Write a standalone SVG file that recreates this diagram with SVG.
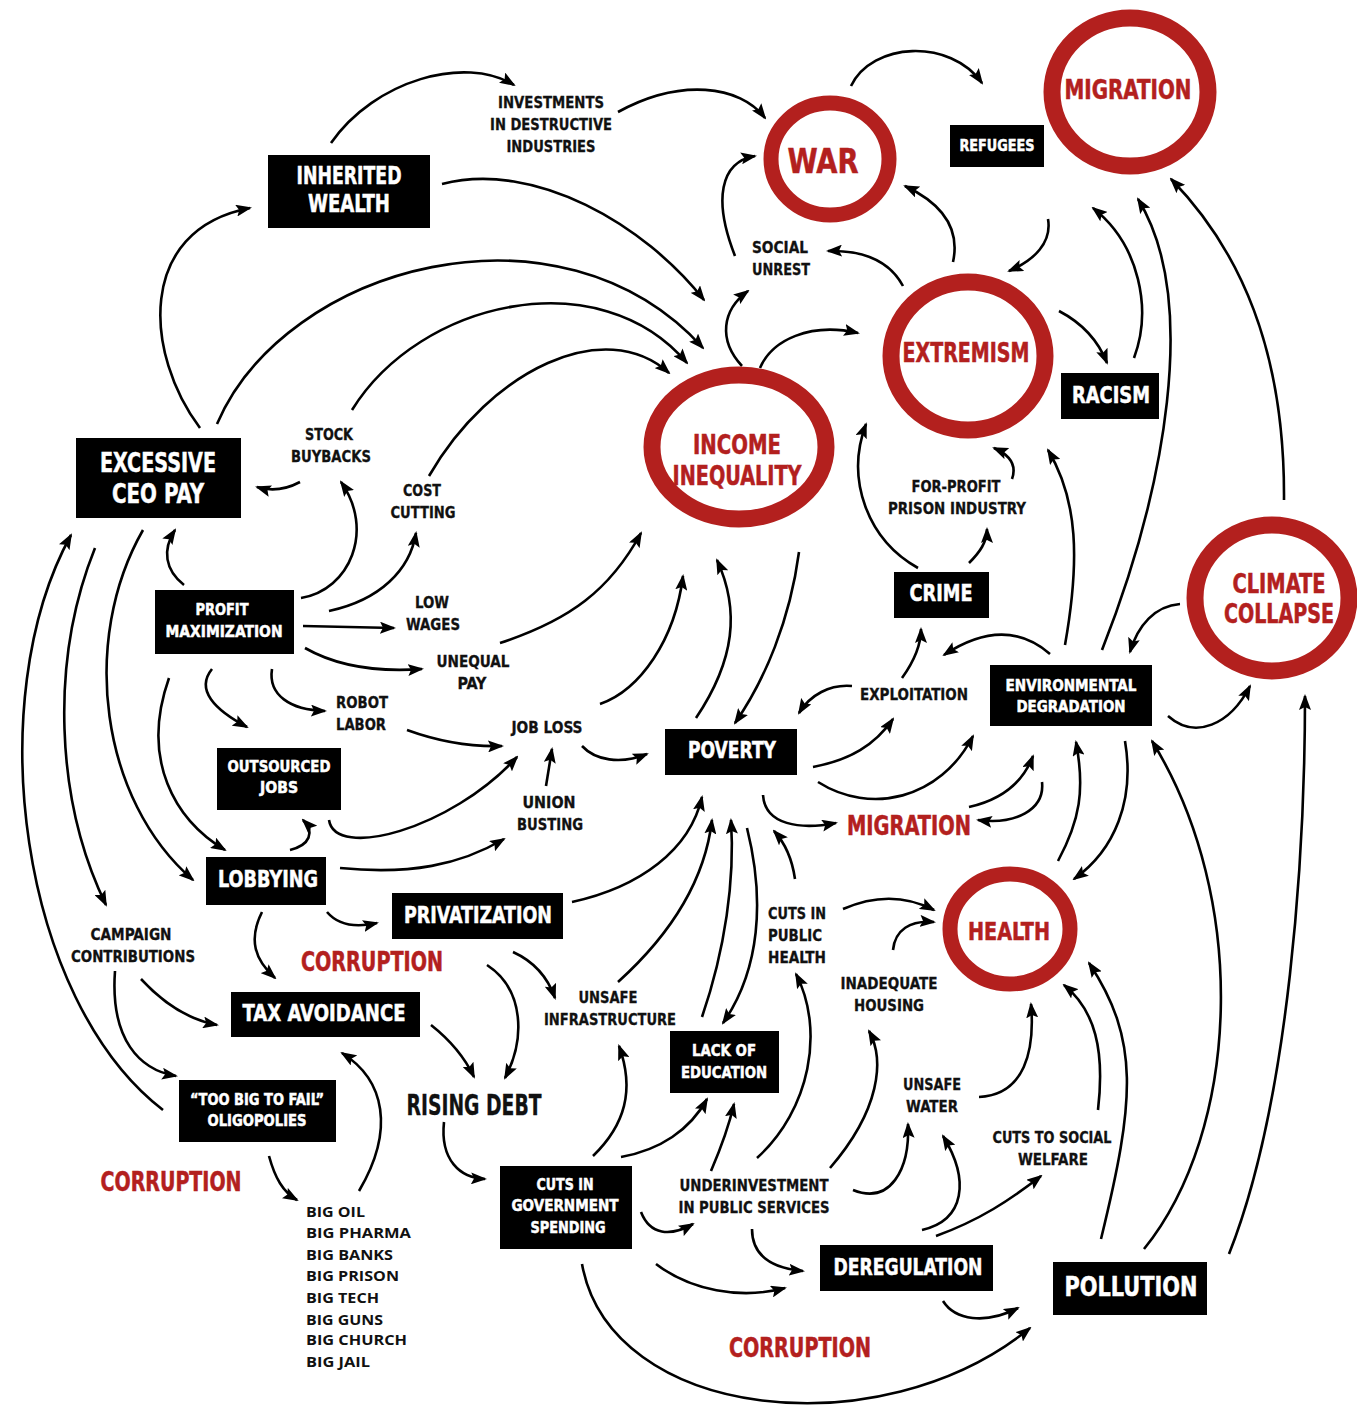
<svg xmlns="http://www.w3.org/2000/svg" width="1357" height="1407" viewBox="0 0 1357 1407">
<defs>
<style>
.bg{fill:#fff}
.box{fill:#000}
.t{font-family:"Liberation Sans Narrow","DejaVu Sans Condensed","Liberation Sans",sans-serif;font-weight:bold;text-anchor:middle;dominant-baseline:central}
.l{text-anchor:start}
.w{fill:#fff;stroke:#fff;stroke-width:0.5}
.k{fill:#111;stroke:#111;stroke-width:0.3}
.r{fill:#b3201e;stroke:#b3201e;stroke-width:0.5}
.s16{font-size:16px}
.s23{font-size:23px}
.s26{font-size:26px}
.ring{fill:none;stroke:#b3201e}
.c{fill:none;stroke:#000;stroke-width:2.6;marker-end:url(#ah)}
.big{font-family:"Open Sans","DejaVu Sans","Liberation Sans",sans-serif;font-weight:bold;font-size:15px;fill:#111;dominant-baseline:central}
</style>
<marker id="ah" viewBox="0 0 16 12" refX="14" refY="6" markerWidth="16" markerHeight="12" markerUnits="userSpaceOnUse" orient="auto">
<path d="M0,0 L16,6 L0,12 L3,6 z" fill="#000"/>
</marker>
</defs>
<rect class="bg" x="0" y="0" width="1357" height="1407"/>

<g id="connectors">
<path class="c" d="M331,143 C375,80 465,55 514,85"/>
<path class="c" d="M618,112 C680,78 740,85 765,118"/>
<path class="c" d="M851,86 C872,42 950,38 982,83"/>
<path class="c" d="M442,184 C535,160 645,225 704,300"/>
<path class="c" d="M200,428 C145,355 135,230 250,208"/>
<path class="c" d="M217,424 C285,265 560,190 703,348"/>
<path class="c" d="M352,410 C420,300 600,260 687,363"/>
<path class="c" d="M429,476 C490,370 605,315 669,373"/>
<path class="c" d="M300,482 C285,490 270,491 257,487"/>
<path class="c" d="M735,256 C713,200 720,162 755,156"/>
<path class="c" d="M903,286 C890,262 865,250 828,251"/>
<path class="c" d="M953,262 C960,230 945,205 905,186"/>
<path class="c" d="M1048,219 C1052,242 1035,260 1009,271"/>
<path class="c" d="M1059,311 C1080,322 1098,340 1107,363"/>
<path class="c" d="M1134,358 C1152,310 1140,245 1093,208"/>
<path class="c" d="M1102,650 C1165,490 1200,300 1138,199"/>
<path class="c" d="M1284,500 C1285,350 1240,250 1171,179"/>
<path class="c" d="M742,366 C718,340 722,310 748,291"/>
<path class="c" d="M760,368 C772,340 810,322 858,333"/>
<path class="c" d="M1065,645 C1080,560 1078,500 1048,450"/>
<path class="c" d="M1180,604 C1155,606 1138,625 1130,652"/>
<path class="c" d="M1050,654 C1020,628 985,628 944,655"/>
<path class="c" d="M918,568 C868,540 845,480 866,424"/>
<path class="c" d="M969,563 C980,552 987,542 987,529"/>
<path class="c" d="M1012,479 C1017,465 1010,455 994,448"/>
<path class="c" d="M1168,716 C1195,740 1230,725 1250,686"/>
<path class="c" d="M1229,1254 C1290,1100 1305,850 1305,696"/>
<path class="c" d="M1144,1249 C1240,1130 1250,900 1152,741"/>
<path class="c" d="M1101,1239 C1135,1100 1140,1040 1089,963"/>
<path class="c" d="M1098,1110 C1105,1050 1095,1010 1064,985"/>
<path class="c" d="M979,1097 C1025,1095 1035,1050 1031,1004"/>
<path class="c" d="M1058,861 C1080,820 1085,790 1076,742"/>
<path class="c" d="M1125,741 C1135,800 1115,850 1074,879"/>
<path class="c" d="M799,552 C790,620 765,680 735,723"/>
<path class="c" d="M696,718 C735,660 740,610 717,560"/>
<path class="c" d="M600,704 C640,690 675,640 683,576"/>
<path class="c" d="M852,686 C830,684 810,695 799,713"/>
<path class="c" d="M902,678 C915,660 921,645 921,629"/>
<path class="c" d="M813,767 C850,760 875,745 893,719"/>
<path class="c" d="M818,782 C870,815 940,800 973,736"/>
<path class="c" d="M969,807 C1000,800 1022,785 1033,756"/>
<path class="c" d="M1042,782 C1045,810 1015,825 978,820"/>
<path class="c" d="M763,795 C765,825 800,830 836,823"/>
<path class="c" d="M795,879 C792,858 785,843 774,831"/>
<path class="c" d="M572,902 C640,887 690,850 702,797"/>
<path class="c" d="M618,982 C670,935 705,880 712,820"/>
<path class="c" d="M702,1017 C725,950 735,880 731,820"/>
<path class="c" d="M747,828 C765,900 760,970 723,1023"/>
<path class="c" d="M843,909 C875,895 905,895 934,910"/>
<path class="c" d="M893,950 C895,930 910,920 934,922"/>
<path class="c" d="M301,598 C350,590 375,530 341,482"/>
<path class="c" d="M329,611 C380,600 410,570 416,533"/>
<path class="c" d="M303,626 L394,628"/>
<path class="c" d="M305,648 C340,668 380,672 422,669"/>
<path class="c" d="M500,643 C570,620 610,590 641,533"/>
<path class="c" d="M184,585 C165,570 162,550 175,530"/>
<path class="c" d="M212,669 C195,690 215,710 247,727"/>
<path class="c" d="M272,669 C268,695 290,710 325,711"/>
<path class="c" d="M407,730 C440,742 470,747 502,746"/>
<path class="c" d="M582,746 C595,760 620,765 647,754"/>
<path class="c" d="M546,786 L552,749"/>
<path class="c" d="M329,820 C335,860 450,830 517,757"/>
<path class="c" d="M290,850 C310,845 315,832 303,820"/>
<path class="c" d="M340,868 C410,875 460,865 504,839"/>
<path class="c" d="M327,912 C338,925 355,928 377,923"/>
<path class="c" d="M262,912 C248,940 255,960 275,978"/>
<path class="c" d="M169,678 C140,760 175,820 225,850"/>
<path class="c" d="M143,530 C80,640 100,800 193,880"/>
<path class="c" d="M95,548 C50,660 55,800 106,905"/>
<path class="c" d="M163,1110 C20,1000 -20,700 71,535"/>
<path class="c" d="M141,979 C165,1005 190,1020 217,1025"/>
<path class="c" d="M115,971 C110,1040 140,1070 176,1076"/>
<path class="c" d="M269,1156 C275,1178 283,1192 297,1200"/>
<path class="c" d="M359,1191 C395,1130 385,1080 342,1053"/>
<path class="c" d="M431,1025 C450,1040 465,1058 474,1077"/>
<path class="c" d="M487,965 C525,990 525,1040 505,1078"/>
<path class="c" d="M513,952 C535,962 548,978 555,998"/>
<path class="c" d="M444,1122 C440,1160 460,1178 485,1179"/>
<path class="c" d="M593,1156 C625,1125 635,1090 619,1046"/>
<path class="c" d="M621,1157 C660,1150 690,1130 707,1099"/>
<path class="c" d="M711,1171 C720,1150 728,1130 734,1104"/>
<path class="c" d="M757,1158 C810,1110 825,1030 796,974"/>
<path class="c" d="M830,1168 C880,1110 885,1060 869,1031"/>
<path class="c" d="M853,1190 C890,1205 910,1170 908,1124"/>
<path class="c" d="M922,1230 C965,1220 970,1180 943,1136"/>
<path class="c" d="M936,1236 C980,1220 1010,1200 1041,1176"/>
<path class="c" d="M641,1212 C650,1235 670,1237 693,1224"/>
<path class="c" d="M752,1229 C752,1255 770,1268 803,1271"/>
<path class="c" d="M656,1264 C690,1290 740,1300 785,1288"/>
<path class="c" d="M943,1301 C955,1320 985,1325 1018,1308"/>
<path class="c" d="M582,1264 C610,1420 880,1450 1030,1328"/>
</g>

<g id="war"><ellipse class="ring" cx="830" cy="159" rx="59" ry="56" stroke-width="15"/><text class="t r" x="823" y="161" font-size="34" textLength="71" lengthAdjust="spacingAndGlyphs">WAR</text></g>
<g id="migration-top"><ellipse class="ring" cx="1130" cy="92" rx="78" ry="74" stroke-width="17"/><text class="t r s26" x="1128" y="90" textLength="127" lengthAdjust="spacingAndGlyphs">MIGRATION</text></g>
<g id="extremism"><ellipse class="ring" cx="968" cy="356" rx="77" ry="74" stroke-width="17"/><text class="t r s26" x="966" y="353" textLength="127" lengthAdjust="spacingAndGlyphs">EXTREMISM</text></g>
<g id="income-inequality"><ellipse class="ring" cx="739" cy="447" rx="87" ry="72" stroke-width="17"/><text class="t r" font-size="27" x="737" y="444" textLength="88" lengthAdjust="spacingAndGlyphs">INCOME</text><text class="t r" font-size="27" x="737" y="475" textLength="129" lengthAdjust="spacingAndGlyphs">INEQUALITY</text></g>
<g id="climate-collapse"><ellipse class="ring" cx="1272" cy="598" rx="77" ry="73" stroke-width="17"/><text class="t r s26" x="1279" y="584" textLength="93" lengthAdjust="spacingAndGlyphs">CLIMATE</text><text class="t r s26" x="1279" y="614" textLength="110" lengthAdjust="spacingAndGlyphs">COLLAPSE</text></g>
<g id="health"><ellipse class="ring" cx="1010" cy="929" rx="60" ry="55" stroke-width="15"/><text class="t r" font-size="24" x="1009" y="932" textLength="82" lengthAdjust="spacingAndGlyphs">HEALTH</text></g>

<g id="inherited-wealth"><rect class="box" x="268" y="155" width="162" height="73"/><text class="t w" font-size="25" x="349" y="175" textLength="105" lengthAdjust="spacingAndGlyphs">INHERITED</text><text class="t w" font-size="25" x="349" y="203" textLength="82" lengthAdjust="spacingAndGlyphs">WEALTH</text></g>
<g id="excessive-ceo-pay"><rect class="box" x="76" y="438" width="165" height="80"/><text class="t w" font-size="27" x="158" y="462" textLength="116" lengthAdjust="spacingAndGlyphs">EXCESSIVE</text><text class="t w" font-size="27" x="158" y="493" textLength="92" lengthAdjust="spacingAndGlyphs">CEO PAY</text></g>
<g id="refugees"><rect class="box" x="950" y="125" width="94" height="42"/><text class="t w s16" x="997" y="145" textLength="75" lengthAdjust="spacingAndGlyphs">REFUGEES</text></g>
<g id="racism"><rect class="box" x="1061" y="373" width="98" height="46"/><text class="t w s23" x="1111" y="395" textLength="78" lengthAdjust="spacingAndGlyphs">RACISM</text></g>
<g id="profit-maximization"><rect class="box" x="155" y="590" width="139" height="64"/><text class="t w s16" x="222" y="609" textLength="53" lengthAdjust="spacingAndGlyphs">PROFIT</text><text class="t w s16" x="224" y="631" textLength="117" lengthAdjust="spacingAndGlyphs">MAXIMIZATION</text></g>
<g id="crime"><rect class="box" x="894" y="572" width="95" height="46"/><text class="t w s23" x="941" y="593" textLength="63" lengthAdjust="spacingAndGlyphs">CRIME</text></g>
<g id="environmental-degradation"><rect class="box" x="990" y="665" width="162" height="61"/><text class="t w s16" x="1071" y="685" textLength="131" lengthAdjust="spacingAndGlyphs">ENVIRONMENTAL</text><text class="t w s16" x="1071" y="706" textLength="109" lengthAdjust="spacingAndGlyphs">DEGRADATION</text></g>
<g id="poverty"><rect class="box" x="665" y="729" width="132" height="46"/><text class="t w s23" x="732" y="750" textLength="88" lengthAdjust="spacingAndGlyphs">POVERTY</text></g>
<g id="outsourced-jobs"><rect class="box" x="217" y="748" width="124" height="62"/><text class="t w s16" x="279" y="766" textLength="103" lengthAdjust="spacingAndGlyphs">OUTSOURCED</text><text class="t w s16" x="279" y="787" textLength="38" lengthAdjust="spacingAndGlyphs">JOBS</text></g>
<g id="lobbying"><rect class="box" x="206" y="857" width="120" height="48"/><text class="t w s23" x="268" y="879" textLength="100" lengthAdjust="spacingAndGlyphs">LOBBYING</text></g>
<g id="privatization"><rect class="box" x="392" y="893" width="171" height="46"/><text class="t w s23" x="478" y="915" textLength="148" lengthAdjust="spacingAndGlyphs">PRIVATIZATION</text></g>
<g id="tax-avoidance"><rect class="box" x="231" y="992" width="189" height="45"/><text class="t w s23" x="324" y="1013" textLength="163" lengthAdjust="spacingAndGlyphs">TAX  AVOIDANCE</text></g>
<g id="too-big-to-fail"><rect class="box" x="179" y="1080" width="157" height="62"/><text class="t w s16" x="257" y="1099" textLength="134" lengthAdjust="spacingAndGlyphs">“TOO BIG TO FAIL”</text><text class="t w s16" x="257" y="1120" textLength="99" lengthAdjust="spacingAndGlyphs">OLIGOPOLIES</text></g>
<g id="lack-of-education"><rect class="box" x="670" y="1031" width="109" height="62"/><text class="t w s16" x="724" y="1050" textLength="64" lengthAdjust="spacingAndGlyphs">LACK OF</text><text class="t w s16" x="724" y="1072" textLength="86" lengthAdjust="spacingAndGlyphs">EDUCATION</text></g>
<g id="cuts-in-government-spending"><rect class="box" x="500" y="1166" width="132" height="83"/><text class="t w s16" x="565" y="1184" textLength="57" lengthAdjust="spacingAndGlyphs">CUTS IN</text><text class="t w s16" x="565" y="1205" textLength="107" lengthAdjust="spacingAndGlyphs">GOVERNMENT</text><text class="t w s16" x="568" y="1227" textLength="75" lengthAdjust="spacingAndGlyphs">SPENDING</text></g>
<g id="deregulation"><rect class="box" x="820" y="1245" width="173" height="46"/><text class="t w s23" x="908" y="1267" textLength="149" lengthAdjust="spacingAndGlyphs">DEREGULATION</text></g>
<g id="pollution"><rect class="box" x="1053" y="1262" width="154" height="53"/><text class="t w" font-size="27" x="1131" y="1286" textLength="133" lengthAdjust="spacingAndGlyphs">POLLUTION</text></g>

<g id="investments"><text class="t k s16" x="551" y="102" textLength="106" lengthAdjust="spacingAndGlyphs">INVESTMENTS</text><text class="t k s16" x="551" y="124" textLength="122" lengthAdjust="spacingAndGlyphs">IN DESTRUCTIVE</text><text class="t k s16" x="551" y="146" textLength="89" lengthAdjust="spacingAndGlyphs">INDUSTRIES</text></g>
<g id="social-unrest"><text class="t k s16" x="780" y="247" textLength="56" lengthAdjust="spacingAndGlyphs">SOCIAL</text><text class="t k s16" x="781" y="269" textLength="58" lengthAdjust="spacingAndGlyphs">UNREST</text></g>
<g id="stock-buybacks"><text class="t k s16" x="329" y="434" textLength="48" lengthAdjust="spacingAndGlyphs">STOCK</text><text class="t k s16" x="331" y="456" textLength="80" lengthAdjust="spacingAndGlyphs">BUYBACKS</text></g>
<g id="cost-cutting"><text class="t k s16" x="422" y="490" textLength="38" lengthAdjust="spacingAndGlyphs">COST</text><text class="t k s16" x="423" y="512" textLength="65" lengthAdjust="spacingAndGlyphs">CUTTING</text></g>
<g id="for-profit-prison"><text class="t k s16" x="956" y="486" textLength="89" lengthAdjust="spacingAndGlyphs">FOR-PROFIT</text><text class="t k s16" x="957" y="508" textLength="138" lengthAdjust="spacingAndGlyphs">PRISON INDUSTRY</text></g>
<g id="low-wages"><text class="t k s16" x="432" y="602" textLength="34" lengthAdjust="spacingAndGlyphs">LOW</text><text class="t k s16" x="433" y="624" textLength="54" lengthAdjust="spacingAndGlyphs">WAGES</text></g>
<g id="unequal-pay"><text class="t k s16" x="473" y="661" textLength="73" lengthAdjust="spacingAndGlyphs">UNEQUAL</text><text class="t k s16" x="472" y="683" textLength="29" lengthAdjust="spacingAndGlyphs">PAY</text></g>
<g id="robot-labor"><text class="t k s16" x="362" y="702" textLength="52" lengthAdjust="spacingAndGlyphs">ROBOT</text><text class="t k s16" x="361" y="724" textLength="50" lengthAdjust="spacingAndGlyphs">LABOR</text></g>
<g id="job-loss"><text class="t k s16" x="547" y="727" textLength="71" lengthAdjust="spacingAndGlyphs">JOB LOSS</text></g>
<g id="exploitation"><text class="t k s16" x="914" y="694" textLength="108" lengthAdjust="spacingAndGlyphs">EXPLOITATION</text></g>
<g id="union-busting"><text class="t k s16" x="549" y="802" textLength="53" lengthAdjust="spacingAndGlyphs">UNION</text><text class="t k s16" x="550" y="824" textLength="66" lengthAdjust="spacingAndGlyphs">BUSTING</text></g>
<g id="migration-mid"><text class="t r s26" x="909" y="826" textLength="124" lengthAdjust="spacingAndGlyphs">MIGRATION</text></g>
<g id="campaign-contributions"><text class="t k s16" x="131" y="934" textLength="81" lengthAdjust="spacingAndGlyphs">CAMPAIGN</text><text class="t k s16" x="133" y="956" textLength="124" lengthAdjust="spacingAndGlyphs">CONTRIBUTIONS</text></g>
<g id="cuts-in-public-health"><text class="t k s16 l" x="768" y="913" textLength="58" lengthAdjust="spacingAndGlyphs">CUTS IN</text><text class="t k s16 l" x="768" y="935" textLength="54" lengthAdjust="spacingAndGlyphs">PUBLIC</text><text class="t k s16 l" x="768" y="957" textLength="58" lengthAdjust="spacingAndGlyphs">HEALTH</text></g>
<g id="corruption-1"><text class="t r s26" x="372" y="962" textLength="142" lengthAdjust="spacingAndGlyphs">CORRUPTION</text></g>
<g id="unsafe-infrastructure"><text class="t k s16" x="608" y="997" textLength="59" lengthAdjust="spacingAndGlyphs">UNSAFE</text><text class="t k s16" x="610" y="1019" textLength="132" lengthAdjust="spacingAndGlyphs">INFRASTRUCTURE</text></g>
<g id="inadequate-housing"><text class="t k s16" x="889" y="983" textLength="97" lengthAdjust="spacingAndGlyphs">INADEQUATE</text><text class="t k s16" x="889" y="1005" textLength="70" lengthAdjust="spacingAndGlyphs">HOUSING</text></g>
<g id="rising-debt"><text class="t k" font-size="28" x="474" y="1105" textLength="135" lengthAdjust="spacingAndGlyphs">RISING DEBT</text></g>
<g id="unsafe-water"><text class="t k s16" x="932" y="1084" textLength="58" lengthAdjust="spacingAndGlyphs">UNSAFE</text><text class="t k s16" x="932" y="1106" textLength="52" lengthAdjust="spacingAndGlyphs">WATER</text></g>
<g id="cuts-to-social-welfare"><text class="t k s16" x="1052" y="1137" textLength="119" lengthAdjust="spacingAndGlyphs">CUTS TO SOCIAL</text><text class="t k s16" x="1053" y="1159" textLength="70" lengthAdjust="spacingAndGlyphs">WELFARE</text></g>
<g id="corruption-2"><text class="t r s26" x="171" y="1182" textLength="141" lengthAdjust="spacingAndGlyphs">CORRUPTION</text></g>
<g id="underinvestment"><text class="t k s16" x="754" y="1185" textLength="149" lengthAdjust="spacingAndGlyphs">UNDERINVESTMENT</text><text class="t k s16" x="754" y="1207" textLength="151" lengthAdjust="spacingAndGlyphs">IN PUBLIC SERVICES</text></g>
<g id="big-list">
<text class="big" x="306" y="1211" textLength="59" lengthAdjust="spacingAndGlyphs">BIG OIL</text>
<text class="big" x="306" y="1232" textLength="105" lengthAdjust="spacingAndGlyphs">BIG PHARMA</text>
<text class="big" x="306" y="1254" textLength="87" lengthAdjust="spacingAndGlyphs">BIG BANKS</text>
<text class="big" x="306" y="1275" textLength="93" lengthAdjust="spacingAndGlyphs">BIG PRISON</text>
<text class="big" x="306" y="1297" textLength="73" lengthAdjust="spacingAndGlyphs">BIG TECH</text>
<text class="big" x="306" y="1319" textLength="77" lengthAdjust="spacingAndGlyphs">BIG GUNS</text>
<text class="big" x="306" y="1339" textLength="101" lengthAdjust="spacingAndGlyphs">BIG CHURCH</text>
<text class="big" x="306" y="1361" textLength="64" lengthAdjust="spacingAndGlyphs">BIG JAIL</text>
</g>
<g id="corruption-3"><text class="t r s26" x="800" y="1348" textLength="142" lengthAdjust="spacingAndGlyphs">CORRUPTION</text></g>
</svg>
